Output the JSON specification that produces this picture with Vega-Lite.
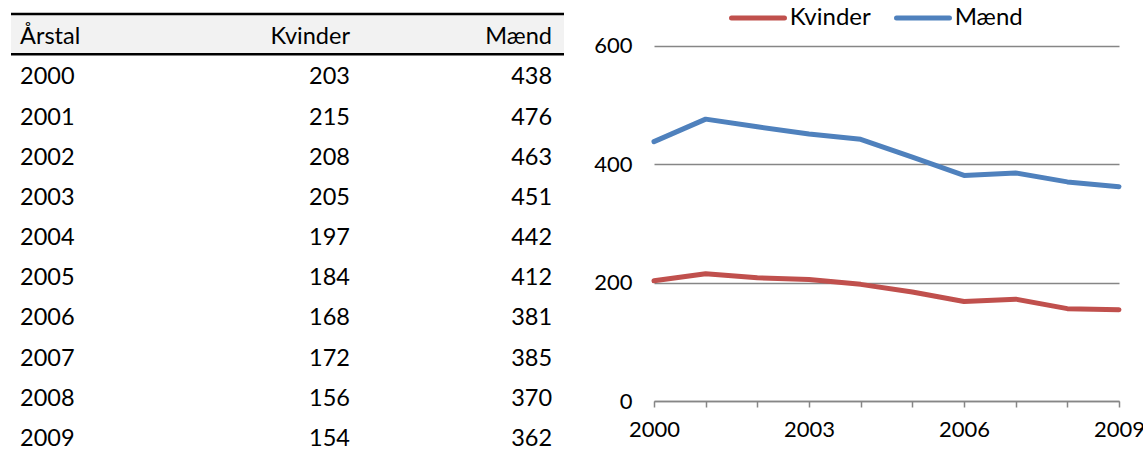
{
  "$schema": "https://vega.github.io/schema/vega-lite/v6.json",
  "padding": {"left": 9, "top": 0, "right": 0, "bottom": 0},
  "bounds": "flush",
  "spacing": 90,
  "config": {"view": {"stroke": null}, "font": "Lato"},
  "datasets": {
    "t": [
      {"Årstal": 2000, "Kvinder": 203, "Mænd": 438},
      {"Årstal": 2001, "Kvinder": 215, "Mænd": 476},
      {"Årstal": 2002, "Kvinder": 208, "Mænd": 463},
      {"Årstal": 2003, "Kvinder": 205, "Mænd": 451},
      {"Årstal": 2004, "Kvinder": 197, "Mænd": 442},
      {"Årstal": 2005, "Kvinder": 184, "Mænd": 412},
      {"Årstal": 2006, "Kvinder": 168, "Mænd": 381},
      {"Årstal": 2007, "Kvinder": 172, "Mænd": 385},
      {"Årstal": 2008, "Kvinder": 156, "Mænd": 370},
      {"Årstal": 2009, "Kvinder": 154, "Mænd": 362}
    ]
  },
  "hconcat": [
    {
      "width": 553,
      "height": 460,
      "data": {"name": "t"},
      "layer": [
        {
          "data": {"values": [{"h": "hdr"}]},
          "mark": {"type": "rect", "color": "#F2F2F2"},
          "encoding": {
            "y": {"field": "h", "type": "ordinal",
              "scale": {"type": "band", "domain": ["hdr", 2000, 2001, 2002, 2003, 2004, 2005, 2006, 2007, 2008, 2009], "paddingInner": 0, "paddingOuter": 0.2214, "align": 0.7865, "round": false},
              "axis": null}
          }
        },
        {
          "data": {"values": [{"h": "hdr"}]},
          "mark": {"type": "rule", "color": "#000000", "strokeWidth": 2.5},
          "encoding": {
            "y": {"field": "h", "type": "ordinal", "bandPosition": 0, "axis": null}
          }
        },
        {
          "data": {"values": [{"h": "hdr"}]},
          "mark": {"type": "rule", "color": "#000000", "strokeWidth": 2.5},
          "encoding": {
            "y": {"field": "h", "type": "ordinal", "bandPosition": 1, "axis": null}
          }
        },
        {
          "data": {"values": [{"h": "Årstal", "r": "hdr"}]},
          "mark": {"type": "text", "align": "left", "baseline": "middle", "dy": 3, "fontSize": 23.5, "color": "#000000"},
          "encoding": {
            "x": {"field": "h", "type": "nominal", "bandPosition": 0.049,
              "scale": {"type": "band", "domain": ["Årstal", "Kvinder", "Mænd"], "paddingInner": 0, "paddingOuter": 0, "round": false},
              "axis": null},
            "y": {"field": "r", "type": "ordinal", "axis": null},
            "text": {"field": "h", "type": "nominal"}
          }
        },
        {
          "data": {"values": [{"h": "Kvinder", "r": "hdr"}]},
          "mark": {"type": "text", "align": "right", "baseline": "middle", "dy": 3, "fontSize": 23.5, "color": "#000000"},
          "encoding": {
            "x": {"field": "h", "type": "nominal", "bandPosition": 0.839, "axis": null},
            "y": {"field": "r", "type": "ordinal", "axis": null},
            "text": {"field": "h", "type": "nominal"}
          }
        },
        {
          "data": {"values": [{"h": "Mænd", "r": "hdr"}]},
          "mark": {"type": "text", "align": "right", "baseline": "middle", "dy": 3, "fontSize": 23.5, "color": "#000000"},
          "encoding": {
            "x": {"field": "h", "type": "nominal", "bandPosition": 0.935, "axis": null},
            "y": {"field": "r", "type": "ordinal", "axis": null},
            "text": {"field": "h", "type": "nominal"}
          }
        },
        {
          "mark": {"type": "text", "align": "left", "baseline": "middle", "dy": 3, "fontSize": 23.5, "color": "#000000"},
          "encoding": {
            "x": {"datum": "Årstal", "type": "nominal", "bandPosition": 0.049, "axis": null},
            "y": {"field": "Årstal", "type": "ordinal", "axis": null},
            "text": {"field": "Årstal", "type": "nominal"}
          }
        },
        {
          "mark": {"type": "text", "align": "right", "baseline": "middle", "dy": 3, "fontSize": 23.5, "color": "#000000"},
          "encoding": {
            "x": {"datum": "Kvinder", "type": "nominal", "bandPosition": 0.839, "axis": null},
            "y": {"field": "Årstal", "type": "ordinal", "axis": null},
            "text": {"field": "Kvinder", "type": "nominal"}
          }
        },
        {
          "mark": {"type": "text", "align": "right", "baseline": "middle", "dy": 3, "fontSize": 23.5, "color": "#000000"},
          "encoding": {
            "x": {"datum": "Mænd", "type": "nominal", "bandPosition": 0.935, "axis": null},
            "y": {"field": "Årstal", "type": "ordinal", "axis": null},
            "text": {"field": "Mænd", "type": "nominal"}
          }
        }
      ]
    },
    {
      "width": 465,
      "height": 401,
      "data": {"name": "t"},
      "transform": [{"fold": ["Kvinder", "Mænd"], "as": ["k", "v"]}],
      "mark": {"type": "line", "strokeWidth": 5, "strokeCap": "round", "strokeJoin": "round"},
      "encoding": {
        "x": {
          "field": "Årstal", "type": "quantitative",
          "scale": {"domain": [2000, 2009], "nice": false, "zero": false},
          "axis": {
            "values": [2000, 2001, 2002, 2003, 2004, 2005, 2006, 2007, 2008, 2009],
            "format": "d",
            "labelExpr": "(datum.value - 2000) % 3 == 0 ? datum.label : ''",
            "grid": false, "domainColor": "#868686", "domainWidth": 1.5, "tickColor": "#868686", "tickWidth": 1.5, "tickSize": 6,
            "labelFlush": false, "labelOverlap": false, "labelFontSize": 22, "labelColor": "#000000", "labelPadding": 12, "title": null
          }
        },
        "y": {
          "field": "v", "type": "quantitative",
          "scale": {"domain": [0, 677.2], "nice": false},
          "axis": {
            "values": [0, 200, 400, 600], "domain": false, "ticks": false, "tickSize": 0,
            "gridColor": "#868686", "gridWidth": 1.5, "labelFontSize": 22, "labelColor": "#000000", "labelPadding": 22, "title": null
          }
        },
        "color": {
          "field": "k", "type": "nominal",
          "scale": {"domain": ["Kvinder", "Mænd"], "range": ["#C0504D", "#4F81BD"]},
          "legend": {
            "orient": "none", "legendX": 735, "legendY": 6, "padding": 0, "direction": "horizontal", "title": null,
            "symbolType": "M-3,0H3", "symbolSize": 312, "symbolStrokeWidth": 5,
            "labelFontSize": 24, "labelColor": "#000000", "columnPadding": 15, "labelOffset": 19.7,
            "encode": {"symbols": {"update": {"strokeCap": {"value": "round"}}}}
          }
        }
      }
    }
  ]
}
